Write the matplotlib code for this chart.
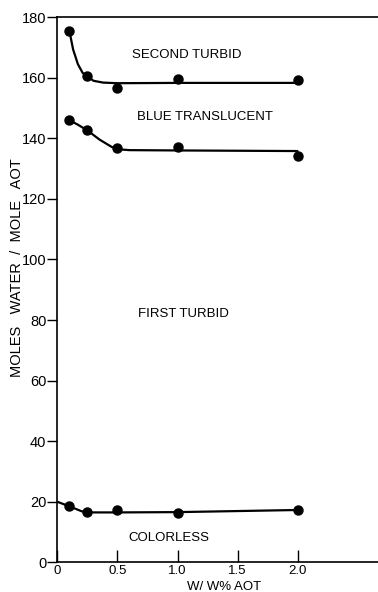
import matplotlib
matplotlib.use("Agg")
import matplotlib.pyplot as plt

plt.rcParams['font.family'] = ['Liberation Sans', 'DejaVu Sans']

# measured points
conc = [0.1, 0.25, 0.5, 1.0, 2.0]
second_turbid = [175.4, 160.5, 156.5, 159.5, 159.3]
blue_translucent = [146.0, 142.9, 136.8, 137.3, 134.2]
colorless = [18.5, 16.7, 17.2, 16.3, 17.3]

# hand drawn curves
st_curve_x = [0.1, 0.13, 0.17, 0.21, 0.25, 0.3, 0.38, 0.5, 1.0, 2.0]
st_curve_y = [175.4, 169.4, 164.5, 161.6, 160.5, 159.0, 158.4, 158.2, 158.3, 158.3]
bt_curve_x = [0.1, 0.17, 0.25, 0.35, 0.45, 0.5, 0.6, 1.0, 2.0]
bt_curve_y = [146.0, 144.5, 142.6, 139.6, 137.2, 136.4, 136.1, 136.0, 135.8]
cl_curve_x = [0.0, 0.1, 0.2, 0.25, 0.5, 1.0, 2.0]
cl_curve_y = [20.0, 18.5, 16.9, 16.5, 16.5, 16.6, 17.3]

region_labels = ['SECOND TURBID', 'BLUE TRANSLUCENT', 'FIRST TURBID', 'COLORLESS']
region_x = [1.08, 1.23, 1.05, 0.93]
region_y = [167.4, 147.1, 82.0, 7.9]

xticks = [0, 0.5, 1.0, 1.5, 2.0]
xticklabels = ['0', '0.5', '1.0', '1.5', '2.0']
yticks = list(range(0, 181, 20))

fig = plt.figure(figsize=(3.78, 5.92), dpi=100)
ax = fig.add_axes([0.152, 0.050, 0.848, 0.921])

for cx, cy in [(st_curve_x, st_curve_y), (bt_curve_x, bt_curve_y), (cl_curve_x, cl_curve_y)]:
    ax.plot(cx, cy, color='black', lw=1.6, solid_capstyle='round')
for ys in [second_turbid, blue_translucent, colorless]:
    ax.plot(conc, ys, 'o', color='black', ms=6.5)

for lab, tx, ty in zip(region_labels, region_x, region_y):
    ax.text(tx, ty, lab, ha='center', va='center', fontsize=9.5)

ax.set_xlim(0, 2.67)
ax.set_ylim(0, 180)
ax.set_xticks(xticks)
ax.set_xticklabels(xticklabels, fontsize=9.5)
ax.set_yticks(yticks)
ax.set_yticklabels([str(v) for v in yticks], fontsize=10.5)
ax.tick_params(axis='x', direction='in', length=9, width=1, pad=2)
ax.tick_params(axis='y', direction='out', length=7, width=1, pad=1)
ax.spines['right'].set_visible(False)
for s in ['left', 'top', 'bottom']:
    ax.spines[s].set_linewidth(1.2)

ax.set_ylabel('MOLES   WATER  /  MOLE   AOT', fontsize=10.5)
ax.yaxis.set_label_coords(-0.105, 0.54)
fig.text(224 / 378, 1 - 586.5 / 592, 'W/ W% AOT', ha='center', va='center', fontsize=9.5)

fig.savefig('out.png', dpi=100)
